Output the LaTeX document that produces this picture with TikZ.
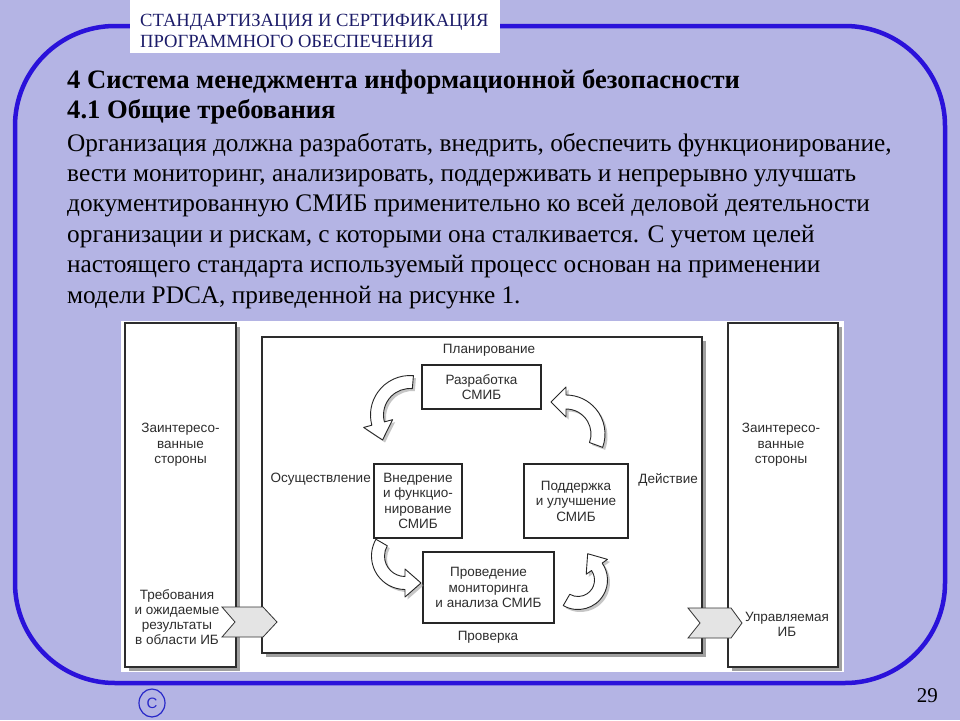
\documentclass[tikz,border=0pt]{standalone}
\usepackage{fontspec}
\setmainfont{Liberation Serif}
\newfontfamily\diagfont{Liberation Sans}
\usetikzlibrary{calc,shapes.geometric}

\definecolor{bgc}{RGB}{180,180,228}
\definecolor{frameblue}{RGB}{42,18,218}
\definecolor{navy}{RGB}{28,28,105}
\definecolor{ink}{RGB}{45,45,45}
\definecolor{shadowc}{RGB}{160,160,160}
\definecolor{chevfill}{RGB}{228,228,228}
\definecolor{copyblue}{RGB}{40,40,200}

\newcommand\fatshape[6]{(#2:{#1+#4}) arc[start angle=#2, end angle=#3, radius={(#1+#4)*1pt}] -- (#3:{#1+#5}) -- ($(#3:#1)+(#3-90:#6)$) -- (#3:{#1-#5}) -- (#3:{#1-#4}) arc[start angle=#3, end angle=#2, radius={(#1-#4)*1pt}] -- cycle}

\begin{document}
\begin{tikzpicture}[x=1pt,y=1pt,yscale=-1,
  lbl/.style={font=\diagfont\fontsize{13.5}{15.5}\selectfont, text=ink, align=center, inner sep=0pt},
  tallbox/.style={draw=ink, line width=1.6pt, fill=white, inner sep=0pt},
  smallbox/.style={draw=black!85, line width=1.6pt, fill=white, inner sep=0pt, align=center, text=ink, font=\diagfont\fontsize{13.5}{15.5}\selectfont},
  fatarrow/.style={draw=black!85, line width=0.9pt, fill=white, line join=round},
  fatshadow/.style={fill=shadowc, opacity=0.6},
  chevron/.style={draw=black!80, line width=0.8pt, fill=chevfill, line join=miter},
  heading/.style={anchor=base west, inner sep=0pt, font=\bfseries\fontsize{26.6}{30}\selectfont},
  bodyline/.style={anchor=base west, inner sep=0pt, font=\fontsize{25.3}{30}\selectfont},
  titleline/.style={anchor=base west, inner sep=0pt, text=navy, font=\fontsize{18.6}{22}\selectfont}]

\useasboundingbox (0,0) rectangle (960,720);
\fill[bgc] (0,0) rectangle (960,720);

% frame
\draw[frameblue, line width=4.5pt, rounded corners=100pt] (15,26) rectangle (945,683);

% title box
\fill[white] (130,0) rectangle (500,53);
\node[titleline] (t1) at (140,26) {СТАНДАРТИЗАЦИЯ И СЕРТИФИКАЦИЯ};
\node[titleline] (t2) at (140,47) {ПРОГРАММНОГО ОБЕСПЕЧЕНИЯ};

% headings and body
\node[heading] (h1) at (67,88) {4 Система менеджмента информационной безопасности};
\node[heading] (h2) at (67,118.5) {4.1 Общие требования};
\node[bodyline] (b1) at (67,151) {Организация должна разработать, внедрить, обеспечить функционирование,};
\node[bodyline] (b2) at (67,181.4) {вести мониторинг, анализировать, поддерживать и непрерывно улучшать};
\node[bodyline] (b3) at (67,211.8) {документированную СМИБ применительно ко всей деловой деятельности};
\node[bodyline] (b4) at (67,242.2) {организации и рискам, с которыми она сталкивается. С учетом целей};
\node[bodyline] (b5) at (67,272.6) {настоящего стандарта используемый процесс основан на применении};
\node[bodyline] (b6) at (67,303) {модели PDCA, приведенной на рисунке 1.};

% diagram background
\fill[white] (121,321) rectangle (844,672);

% tall boxes and inner box with shadows
\fill[shadowc] (128.5,326.5) rectangle (239.5,670.5);
\node[tallbox, minimum width=111pt, minimum height=344pt] (lbox) at (180.5,495) {};
\fill[shadowc] (265.5,340.5) rectangle (705.5,656.5);
\node[tallbox, minimum width=440pt, minimum height=316pt] (inner) at (482,495) {};
\fill[shadowc] (731.5,326.5) rectangle (841.5,670.5);
\node[tallbox, minimum width=110pt, minimum height=344pt] (rbox) at (783,495) {};

% small boxes
\node[smallbox, minimum width=119pt, minimum height=44pt] (plan) at (481.5,387) {Разработка\\СМИБ};
\node[smallbox, minimum width=88pt, minimum height=74pt] (do) at (418,501) {Внедрение\\и функцио-\\нирование\\СМИБ};
\node[smallbox, minimum width=104pt, minimum height=74pt] (act) at (576,501) {Поддержка\\и улучшение\\СМИБ};
\node[smallbox, minimum width=131pt, minimum height=71pt] (check) at (488.5,587.5) {Проведение\\мониторинга\\и анализа СМИБ};

% phase labels
\node[lbl] (lplan) at (489,350) {Планирование};
\node[lbl, anchor=east] (ldo) at (371,479) {Осуществление};
\node[lbl, anchor=east] (lact) at (698,480) {Действие};
\node[lbl] (lcheck) at (488,637) {Проверка};

% stakeholder texts
\node[lbl] (ls) at (180.5,445) {Заинтересо-\\ванные\\стороны};
\node[lbl] (rs) at (781,445) {Заинтересо-\\ванные\\стороны};
\node[lbl, font=\diagfont\fontsize{13.5}{15}\selectfont] (req) at (177,617) {Требования\\и ожидаемые\\результаты\\в области ИБ};
\node[lbl, font=\diagfont\fontsize{13.5}{15}\selectfont] (res) at (787,624) {Управляемая\\ИБ};

% chevrons
\draw[chevron] (222,607) -- (263,607) -- (277,622) -- (263,637) -- (222,637) -- (235,622) -- cycle;
\draw[chevron] (688,608) -- (731,608) -- (742,623) -- (731,638) -- (688,638) -- (700,623) -- cycle;

% curved fat arrows
\fill[fatshadow, shift={(412.5,417.5)}] \fatshape{33}{275}{165}{6.5}{15}{17};
\draw[fatarrow, shift={(410,415)}] \fatshape{33}{275}{165}{6.5}{15}{17};

\fill[fatshadow, shift={(568.5,436.5)}] \fatshape{32}{20}{-90}{7}{15}{15};
\draw[fatarrow, shift={(566,434)}] \fatshape{32}{20}{-90}{7}{15}{15};

\fill[fatshadow, shift={(407.5,558.5)}] \fatshape{27}{210}{90}{6.5}{14}{16};
\draw[fatarrow, shift={(405,556)}] \fatshape{27}{210}{90}{6.5}{14}{16};

\fill[fatshadow, shift={(580.5,582.5)}] \fatshape{23}{120}{-35}{6.5}{13}{16};
\draw[fatarrow, shift={(578,580)}] \fatshape{23}{120}{-35}{6.5}{13}{16};

% footer
\node[draw=copyblue, line width=1.2pt, ellipse, minimum width=26pt, minimum height=28pt, inner sep=0pt, text=copyblue, font=\diagfont\fontsize{15}{16}\selectfont] (copy) at (152,703) {C};
\node[anchor=base east, inner sep=0pt, font=\fontsize{21}{24}\selectfont] (pg) at (938,702) {29};
\end{tikzpicture}
\end{document}
